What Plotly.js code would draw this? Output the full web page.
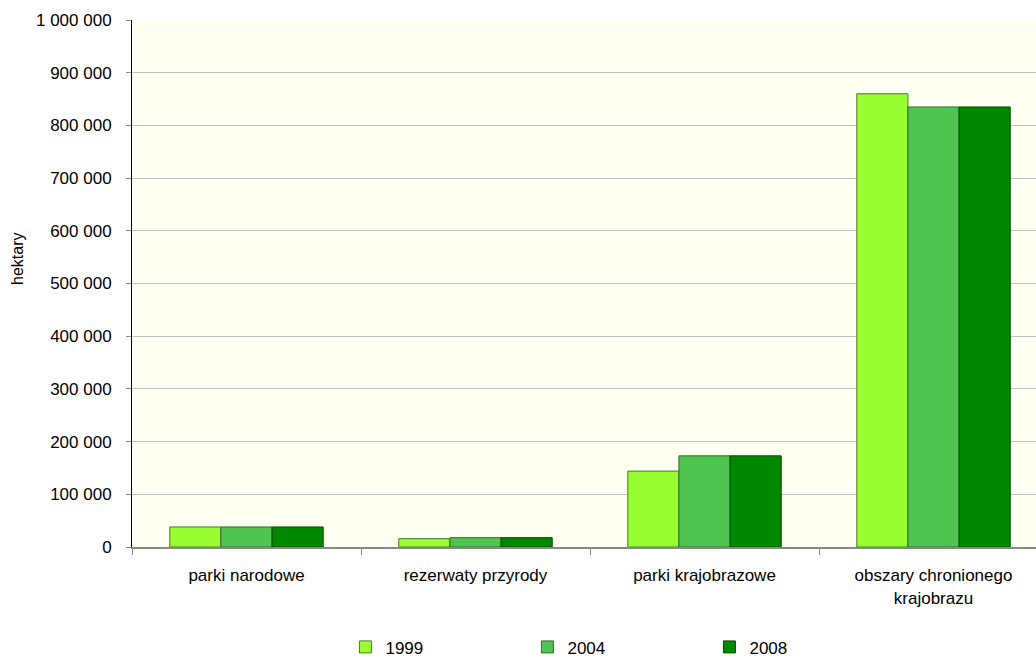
<!DOCTYPE html>
<html>
<head>
<meta charset="utf-8">
<script src="https://cdn.plot.ly/plotly-3.0.1.min.js"></script>
<style>
html, body { margin: 0; padding: 0; overflow: hidden; background: #ffffff; width: 1036px; height: 659px; }
#chart { width: 1060px; height: 680px; }
</style>
</head>
<body>
<div id="chart"></div>
<script>
const categories = ["parki narodowe", "rezerwaty przyrody", "parki krajobrazowe", "obszary chronionego<br>krajobrazu"];
const seriesNames = ["1999", "2004", "2008"];
const values1999 = [38000, 15800, 144000, 860000];
const values2004 = [38000, 17700, 173000, 835000];
const values2008 = [38000, 17700, 173000, 835000];
const yTickVals = [0, 100000, 200000, 300000, 400000, 500000, 600000, 700000, 800000, 900000, 1000000];
const yTickText = ["0", "100 000", "200 000", "300 000", "400 000", "500 000", "600 000", "700 000", "800 000", "900 000", "1 000 000"];
const yTitle = "hektary";

const fills = ["#99ff33", "#50c450", "#008800"];
const outlines = ["#4a7a1e", "#2e6e30", "#004a00"];
const allValues = [values1999, values2004, values2008];

const traces = seriesNames.map((name, i) => ({
  type: "bar",
  name: name,
  x: categories,
  y: allValues[i],
  marker: { color: fills[i], line: { color: outlines[i], width: 1 } },
  hoverinfo: "x+y+name"
}));

const font = "Liberation Sans, Arial, sans-serif";

const layout = {
  width: 1060,
  height: 680,
  margin: { l: 132, r: 12, t: 20, b: 133, autoexpand: false },
  paper_bgcolor: "#ffffff",
  plot_bgcolor: "#fffff2",
  font: { family: font, size: 17, color: "#000000" },
  barmode: "group",
  bargap: 0.33,
  bargroupgap: 0,
  showlegend: true,
  legend: {
    orientation: "h",
    x: 0.233, xanchor: "left",
    yref: "container",
    y: 0.048, yanchor: "middle",
    entrywidth: 137, entrywidthmode: "pixels",
    itemwidth: 30,
    font: { family: font, size: 17, color: "#000000" },
    bgcolor: "rgba(0,0,0,0)",
    traceorder: "normal"
  },
  annotations: [{
    text: yTitle,
    xref: "paper", yref: "paper",
    x: 0, y: 0.5465,
    xanchor: "center", yanchor: "middle",
    xshift: -114,
    textangle: -90,
    showarrow: false,
    font: { family: font, size: 16, color: "#000000" }
  }],
  xaxis: {
    type: "category",
    showline: true, linecolor: "#888888", linewidth: 2,
    ticks: "outside", tickson: "boundaries", ticklen: 6, tickcolor: "#888888", tickwidth: 1,
    tickfont: { family: font, size: 17, color: "#000000" },
    ticklabelstandoff: 12,
    showgrid: false, zeroline: false, fixedrange: true
  },
  yaxis: {
    range: [0, 1000000],
    tickvals: yTickVals,
    ticktext: yTickText,
    showline: true, linecolor: "#000000", linewidth: 1,
    ticks: "outside", ticklen: 5, tickcolor: "#888888", tickwidth: 1,
    tickfont: { family: font, size: 17, color: "#000000" },
    ticklabelstandoff: 11,
    showgrid: true, gridcolor: "#c0c0c0", gridwidth: 1,
    zeroline: false,
    fixedrange: true
  }
};

Plotly.newPlot("chart", traces, layout, { displayModeBar: false, staticPlot: true });
</script>
</body>
</html>
